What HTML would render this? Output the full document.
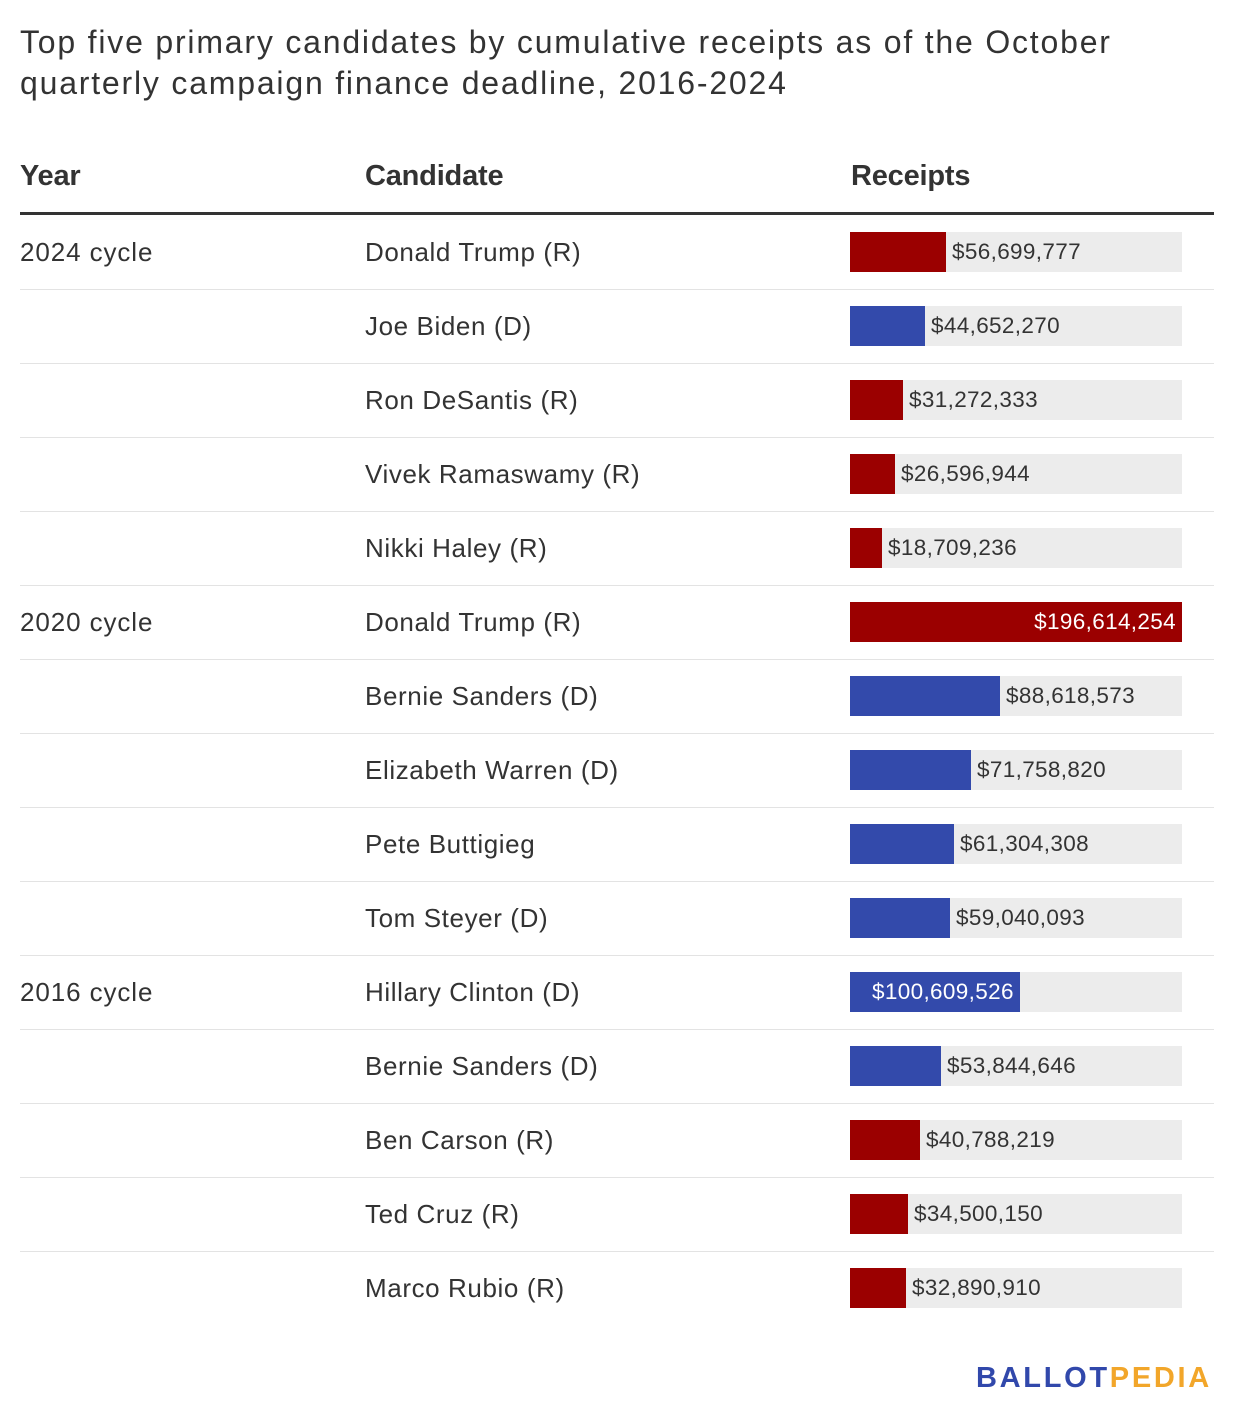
<!DOCTYPE html>
<html><head><meta charset="utf-8"><style>
*{margin:0;padding:0;box-sizing:border-box}
body{width:1234px;height:1426px;background:#fff;position:relative;font-family:"Liberation Sans",Arial,sans-serif;color:#333;overflow:hidden}
.t{position:absolute;left:20px;font-size:32px;line-height:41px;color:#333;white-space:nowrap;letter-spacing:1.8px}
.h{position:absolute;top:160px;font-size:29px;font-weight:bold;color:#333;letter-spacing:-0.2px}
.hl{position:absolute;left:20px;top:212px;width:1194px;height:3px;background:#333}
.r{position:absolute;left:0;width:1234px;height:74px}
.y{position:absolute;left:20px;top:0;line-height:74px;font-size:26px;letter-spacing:0.9px}
.c{position:absolute;left:365px;top:0;line-height:74px;font-size:26px;letter-spacing:0.6px}
.bg{position:absolute;left:850px;top:17px;width:332px;height:40px;background:#ececec}
.b{position:absolute;left:0;top:0;height:40px}
.R{background:#9b0000}.D{background:#334aab}
.v{position:absolute;top:0;line-height:40px;font-size:22.5px;color:#333;white-space:nowrap;letter-spacing:0.35px}
.in{color:#fff;right:6px}
.s{position:absolute;left:20px;top:74px;width:1194px;height:1px;background:#e3e3e3}
.logo{position:absolute;left:976px;top:1362px;font-size:29px;font-weight:bold;letter-spacing:2.7px}
</style></head><body>
<div class="t" style="top:22px">Top five primary candidates by cumulative receipts as of the October</div>
<div class="t" style="top:63px">quarterly campaign finance deadline, 2016-2024</div>
<div class="h" style="left:20px">Year</div>
<div class="h" style="left:365px">Candidate</div>
<div class="h" style="left:851px">Receipts</div>
<div class="hl"></div>

<div class="r" style="top:215px"><div class="y">2024 cycle</div><div class="c">Donald Trump (R)</div><div class="bg"><div class="b R" style="width:96px"></div><div class="v" style="left:102px">$56,699,777</div></div><div class="s"></div></div>
<div class="r" style="top:289px"><div class="c">Joe Biden (D)</div><div class="bg"><div class="b D" style="width:75px"></div><div class="v" style="left:81px">$44,652,270</div></div><div class="s"></div></div>
<div class="r" style="top:363px"><div class="c">Ron DeSantis (R)</div><div class="bg"><div class="b R" style="width:53px"></div><div class="v" style="left:59px">$31,272,333</div></div><div class="s"></div></div>
<div class="r" style="top:437px"><div class="c">Vivek Ramaswamy (R)</div><div class="bg"><div class="b R" style="width:45px"></div><div class="v" style="left:51px">$26,596,944</div></div><div class="s"></div></div>
<div class="r" style="top:511px"><div class="c">Nikki Haley (R)</div><div class="bg"><div class="b R" style="width:32px"></div><div class="v" style="left:38px">$18,709,236</div></div><div class="s"></div></div>
<div class="r" style="top:585px"><div class="y">2020 cycle</div><div class="c">Donald Trump (R)</div><div class="bg"><div class="b R" style="width:332px"></div><div class="v in">$196,614,254</div></div><div class="s"></div></div>
<div class="r" style="top:659px"><div class="c">Bernie Sanders (D)</div><div class="bg"><div class="b D" style="width:150px"></div><div class="v" style="left:156px">$88,618,573</div></div><div class="s"></div></div>
<div class="r" style="top:733px"><div class="c">Elizabeth Warren (D)</div><div class="bg"><div class="b D" style="width:121px"></div><div class="v" style="left:127px">$71,758,820</div></div><div class="s"></div></div>
<div class="r" style="top:807px"><div class="c">Pete Buttigieg</div><div class="bg"><div class="b D" style="width:104px"></div><div class="v" style="left:110px">$61,304,308</div></div><div class="s"></div></div>
<div class="r" style="top:881px"><div class="c">Tom Steyer (D)</div><div class="bg"><div class="b D" style="width:100px"></div><div class="v" style="left:106px">$59,040,093</div></div><div class="s"></div></div>
<div class="r" style="top:955px"><div class="y">2016 cycle</div><div class="c">Hillary Clinton (D)</div><div class="bg"><div class="b D" style="width:170px"></div><div class="v" style="color:#fff;left:22px">$100,609,526</div></div><div class="s"></div></div>
<div class="r" style="top:1029px"><div class="c">Bernie Sanders (D)</div><div class="bg"><div class="b D" style="width:91px"></div><div class="v" style="left:97px">$53,844,646</div></div><div class="s"></div></div>
<div class="r" style="top:1103px"><div class="c">Ben Carson (R)</div><div class="bg"><div class="b R" style="width:70px"></div><div class="v" style="left:76px">$40,788,219</div></div><div class="s"></div></div>
<div class="r" style="top:1177px"><div class="c">Ted Cruz (R)</div><div class="bg"><div class="b R" style="width:58px"></div><div class="v" style="left:64px">$34,500,150</div></div><div class="s"></div></div>
<div class="r" style="top:1251px"><div class="c">Marco Rubio (R)</div><div class="bg"><div class="b R" style="width:56px"></div><div class="v" style="left:62px">$32,890,910</div></div></div>

<div class="logo"><span style="color:#3148ab">BALLOT</span><span style="color:#f2a62a">PEDIA</span></div>
</body></html>
